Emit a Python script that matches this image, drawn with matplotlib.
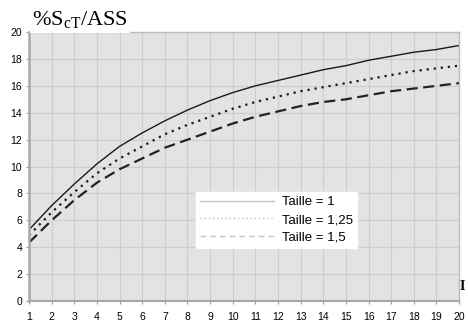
import matplotlib
matplotlib.use('Agg')
import matplotlib.pyplot as plt
from matplotlib.lines import Line2D

# x positions 1..20
x = list(range(1, 21))
taille_1 = [5.3, 7.1, 8.7, 10.2, 11.5, 12.5, 13.4, 14.2, 14.9, 15.5,
            16.0, 16.4, 16.8, 17.2, 17.5, 17.9, 18.2, 18.5, 18.7, 19.0]
taille_125 = [4.9, 6.6, 8.1, 9.5, 10.6, 11.5, 12.4, 13.1, 13.7, 14.3,
              14.8, 15.2, 15.6, 15.9, 16.2, 16.5, 16.8, 17.1, 17.3, 17.5]
taille_15 = [4.35, 6.0, 7.5, 8.8, 9.8, 10.6, 11.4, 12.0, 12.6, 13.2,
             13.7, 14.1, 14.5, 14.8, 15.0, 15.3, 15.6, 15.8, 16.0, 16.2]
labels = ['Taille = 1', 'Taille = 1,25', 'Taille = 1,5']
yticks = list(range(0, 21, 2))

plt.rcParams['font.family'] = 'Liberation Sans'
plt.rcParams['mathtext.fontset'] = 'custom'
plt.rcParams['mathtext.rm'] = 'Liberation Serif'

fig = plt.figure(figsize=(4.68, 3.22), dpi=100)
ax = fig.add_axes([0.062, 0.065, 0.919, 0.8355])
ax.set_facecolor('#e3e3e3')

ax.plot(x, taille_1, color='#1a1a1a', lw=1.0, ls='-')
ax.plot(x, taille_125, color='#1a1a1a', lw=1.6, ls=(0, (1, 2.2)))
ax.plot(x, taille_15, color='#222222', lw=1.6, ls=(0, (5, 2.5)))

ax.set_xlim(1, 20)
ax.set_ylim(0, 20)
ax.set_xticks(x)
ax.set_yticks(yticks)
ax.grid(True, color='#cdcdcd', lw=0.8)
ax.set_axisbelow(True)
ax.tick_params(labelsize=7.5, length=2, color='#999999', pad=3)
ax.tick_params(axis='x', pad=6)
for s in ax.spines.values():
    s.set_color('#bcbcbc')
    s.set_linewidth(1.0)
ax.spines['left'].set_color('#a8a8a8')
ax.spines['left'].set_linewidth(1.8)
ax.spines['bottom'].set_color('#a8a8a8')
ax.spines['bottom'].set_linewidth(1.5)

# title box sitting over the top edge
fig.text(0.068, 0.905, r'%S$_{\mathrm{cT}}$/ASS', family='Liberation Serif',
         fontsize=16, va='bottom', ha='left',
         bbox=dict(facecolor='white', edgecolor='none', pad=1.5))

fig.text(0.987, 0.11, 'I', family='Liberation Serif', fontweight='bold',
         fontsize=10, ha='center', va='center')

handles = [Line2D([], [], color='#c4c4c4', lw=1.0, ls='-'),
           Line2D([], [], color='#c4c4c4', lw=1.0, ls=(0, (1, 2))),
           Line2D([], [], color='#c4c4c4', lw=1.0, ls=(0, (4, 3)))]
leg = ax.legend(handles, labels, loc='upper left',
                bbox_to_anchor=(0.388, 0.405), fontsize=9.5,
                frameon=True, fancybox=False, framealpha=1,
                edgecolor='white', facecolor='white',
                handlelength=5.6, handletextpad=0.6, labelspacing=0.42,
                borderpad=0.3, borderaxespad=0)

fig.savefig('out.png', dpi=100)
